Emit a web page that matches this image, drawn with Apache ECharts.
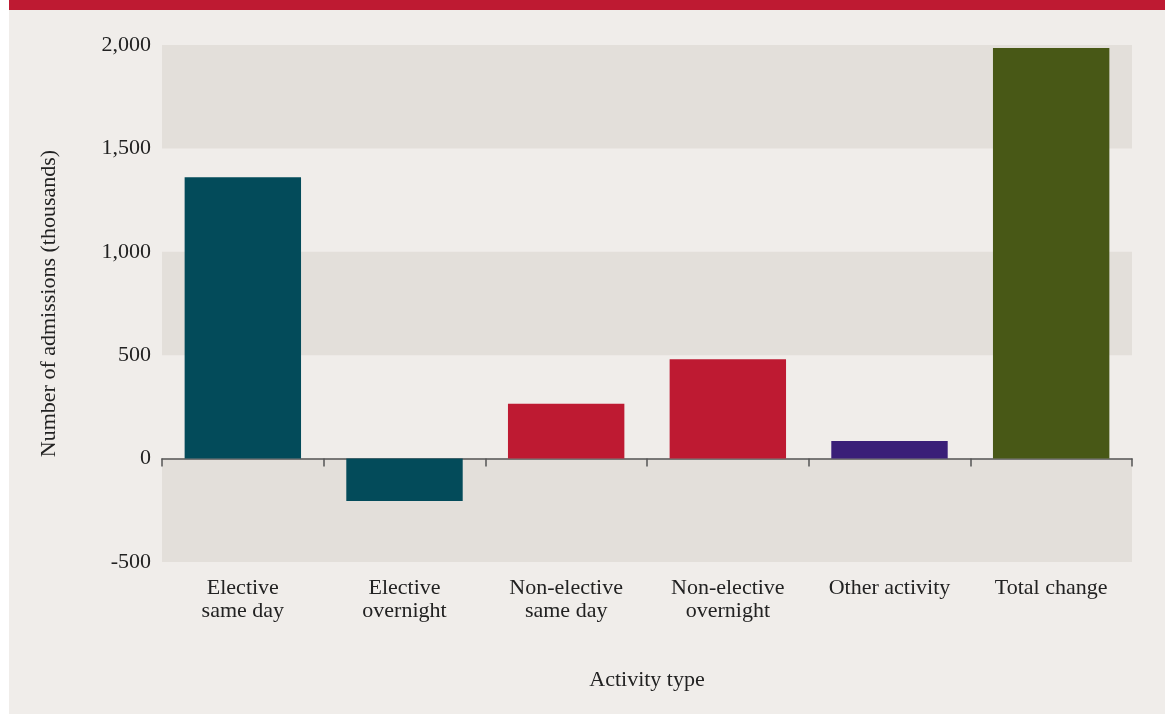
<!DOCTYPE html>
<html>
<head>
<meta charset="utf-8">
<script src="https://cdn.jsdelivr.net/npm/echarts@6/dist/echarts.min.js"></script>
<style>
html,body{margin:0;padding:0;background:#ffffff;}
#chart{width:1167px;height:714px;}
</style>
</head>
<body>
<div id="chart"></div>
<script>
const categories = ['Elective\nsame day', 'Elective\novernight', 'Non-elective\nsame day', 'Non-elective\novernight', 'Other activity', 'Total change'];
const values = [1360, -205, 265, 480, 85, 1985];
const barColors = ['#034b5a', '#034b5a', '#be1a32', '#be1a32', '#3a1f78', '#485816'];
const yTicks = [-500, 0, 500, 1000, 1500, 2000];

const serif = '"Liberation Serif", "DejaVu Serif", serif';
const chart = echarts.init(document.getElementById('chart'), null, {renderer: 'canvas'});
chart.setOption({
  backgroundColor: '#ffffff',
  animation: false,
  graphic: [
    {type: 'rect', shape: {x: 9, y: 0, width: 1156, height: 714}, style: {fill: '#f0edea'}, z: -10, silent: true},
    {type: 'rect', shape: {x: 9, y: 0, width: 1156, height: 10}, style: {fill: '#be1a32'}, z: -9, silent: true}
  ],
  grid: {left: 162, right: 35, top: 45, bottom: 152},
  xAxis: [
    {
      type: 'category', data: categories,
      axisLine: {onZero: true, lineStyle: {color: '#555', width: 1.5}},
      axisTick: {show: true, length: 8, lineStyle: {color: '#555', width: 1.5}},
      axisLabel: {show: false}
    },
    {
      type: 'category', data: categories, position: 'bottom',
      axisLine: {show: false, onZero: false}, axisTick: {show: false},
      axisLabel: {color: '#222', fontFamily: serif, fontSize: 22, lineHeight: 23, margin: 15},
      name: 'Activity type', nameLocation: 'middle', nameGap: 107,
      nameTextStyle: {color: '#222', fontFamily: serif, fontSize: 22}
    }
  ],
  yAxis: {
    type: 'value', min: -500, max: 2000, interval: 500,
    axisLine: {show: false}, axisTick: {show: false},
    splitLine: {show: false},
    splitArea: {show: true, areaStyle: {color: ['#e3dfda', 'rgba(0,0,0,0)']}},
    axisLabel: {color: '#222', fontFamily: serif, fontSize: 22, margin: 11, padding: [4, 0, 0, 0],
      formatter: v => yTicks.includes(v) ? v.toLocaleString('en-US') : ''},
    name: 'Number of admissions (thousands)', nameLocation: 'middle', nameGap: 102,
    nameTextStyle: {color: '#222', fontFamily: serif, fontSize: 22}
  },
  series: [{
    type: 'bar', xAxisIndex: 0, barWidth: '72%',
    data: values.map((v, i) => ({value: v, itemStyle: {color: barColors[i]}}))
  }]
});
</script>
</body>
</html>
